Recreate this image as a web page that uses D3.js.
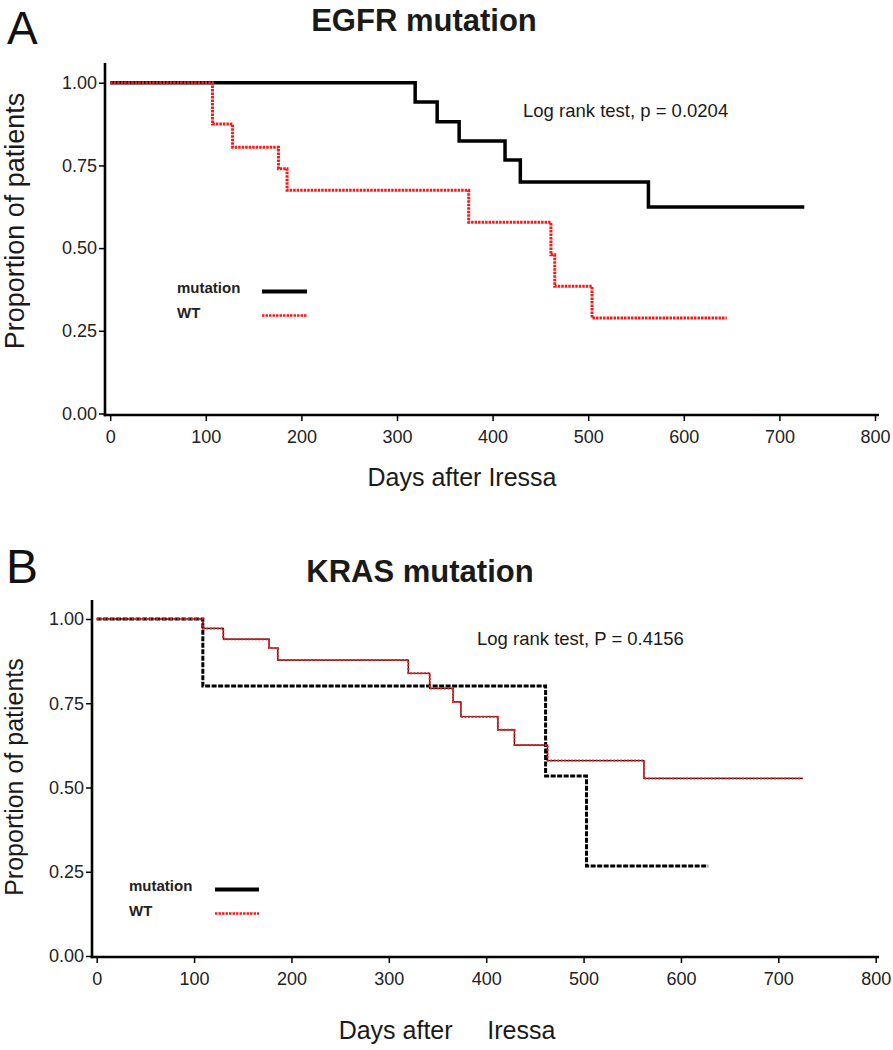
<!DOCTYPE html>
<html>
<head>
<meta charset="utf-8">
<script src="https://cdn.jsdelivr.net/npm/d3@7/dist/d3.min.js"></script>
<style>
  html, body { margin: 0; padding: 0; background: #fff; }
  svg { display: block; font-family: "Liberation Sans", Arial, Helvetica, sans-serif; }
</style>
</head>
<body>
<svg id="chart" width="893" height="1050"></svg>
<script>
// ---------- data ----------
const xTickValues = [0, 100, 200, 300, 400, 500, 600, 700, 800];
const yTickValues = [0, 0.25, 0.5, 0.75, 1.0];
const seriesNames = ["mutation", "WT"];

// Panel A: EGFR mutation
const egfrMutDays = [0, 319, 342, 365, 413, 429, 563, 726];
const egfrMutSurv = [1.0, 0.942, 0.882, 0.824, 0.766, 0.70, 0.624, 0.624];
const egfrWtDays  = [0, 107, 128, 176, 185, 375, 461, 465, 504, 645];
const egfrWtSurv  = [1.0, 0.875, 0.805, 0.74, 0.675, 0.578, 0.48, 0.385, 0.289, 0.289];

// Panel B: KRAS mutation
const krasMutDays = [0, 109, 461, 503, 628];
const krasMutSurv = [1.0, 0.801, 0.534, 0.267, 0.267];
const krasWtDays  = [0, 109, 130, 177, 186, 320, 342, 366, 374, 412, 429, 463, 562, 725];
const krasWtSurv  = [1.0, 0.972, 0.94, 0.914, 0.878, 0.839, 0.794, 0.754, 0.71, 0.671, 0.626, 0.58, 0.527, 0.527];

const panelLetters = ["A", "B"];
const panelTitles = ["EGFR mutation", "KRAS mutation"];
const pvalueTexts = ["Log rank test, p = 0.0204", "Log rank test, P = 0.4156"];
const xAxisTitles = ["Days after Iressa", "Days after     Iressa"];
const yAxisTitle = "Proportion of patients";

// ---------- drawing ----------
const svg = d3.select("#chart");
const RED = "#f01c1c";

function zip(days, surv) { return days.map((d, i) => ({ t: d, s: surv[i] })); }

const panels = [
  {
    letter: panelLetters[0], title: panelTitles[0], ptext: pvalueTexts[0], xtitle: xAxisTitles[0],
    mut: zip(egfrMutDays, egfrMutSurv), wt: zip(egfrWtDays, egfrWtSurv),
    x0: 110.2, x1: 875, yTop: 82.7, yBot: 413.5, axisX: 105, axisY: 415, axisTop: 63, axisRight: 879,
    letterPos: [7, 44], letterSize: 46, titlePos: [424, 31], ptextPos: [523, 117],
    xtitlePos: [462, 486], ytitlePos: [24, 221], ytitleSize: 27,
    legend: { textX: 177, y1: 293, y2: 318, lx1: 262, lx2: 307 },
    style: "A"
  },
  {
    letter: panelLetters[1], title: panelTitles[1], ptext: pvalueTexts[1], xtitle: xAxisTitles[1],
    mut: zip(krasMutDays, krasMutSurv), wt: zip(krasWtDays, krasWtSurv),
    x0: 96.7, x1: 875.7, yTop: 619, yBot: 956, axisX: 92, axisY: 957, axisTop: 600, axisRight: 879,
    letterPos: [6, 583], letterSize: 48, titlePos: [420, 582], ptextPos: [477, 645],
    xtitlePos: [447, 1039], ytitlePos: [23, 777], ytitleSize: 25,
    legend: { textX: 129, y1: 891, y2: 916, lx1: 215, lx2: 259 },
    style: "B"
  }
];

panels.forEach(p => {
  const g = svg.append("g");
  const x = d3.scaleLinear().domain([0, 800]).range([p.x0, p.x1]);
  const y = d3.scaleLinear().domain([0, 1]).range([p.yBot, p.yTop]);

  // panel letter
  g.append("text").attr("x", p.letterPos[0]).attr("y", p.letterPos[1])
    .attr("font-size", p.letterSize).attr("font-weight", 300).attr("fill", "#111")
    .text(p.letter);

  // title
  g.append("text").attr("x", p.titlePos[0]).attr("y", p.titlePos[1])
    .attr("text-anchor", "middle").attr("font-size", 31).attr("font-weight", "bold")
    .attr("fill", "#1a1a1a").text(p.title);

  // axes
  const xAxis = d3.axisBottom(x).tickValues(xTickValues).tickFormat(d3.format("d"))
    .tickSize(6).tickSizeOuter(0);
  const yAxis = d3.axisLeft(y).tickValues(yTickValues).tickFormat(d3.format(".2f"))
    .tickSize(6).tickSizeOuter(0);

  const gx = g.append("g").attr("transform", `translate(0,${p.axisY})`).call(xAxis);
  gx.select(".domain").remove();
  gx.selectAll(".tick line").attr("stroke", "#000").attr("stroke-width", 1.5);
  gx.selectAll(".tick text").attr("font-size", 18).attr("fill", "#222")
    .attr("font-family", "'Liberation Sans', Arial, sans-serif").attr("dy", "1.05em");

  const gy = g.append("g").attr("transform", `translate(${p.axisX},0)`).call(yAxis);
  gy.select(".domain").remove();
  gy.selectAll(".tick line").attr("stroke", "#000").attr("stroke-width", 1.5);
  gy.selectAll(".tick text").attr("font-size", 18).attr("fill", "#222")
    .attr("font-family", "'Liberation Sans', Arial, sans-serif").attr("x", -8);

  // axis lines
  g.append("line").attr("x1", p.axisX).attr("x2", p.axisX)
    .attr("y1", p.axisTop).attr("y2", p.axisY + 1.2)
    .attr("stroke", "#000").attr("stroke-width", 2.6);
  g.append("line").attr("x1", p.axisX - 1.3).attr("x2", p.axisRight)
    .attr("y1", p.axisY).attr("y2", p.axisY)
    .attr("stroke", "#000").attr("stroke-width", 2.6);

  // axis titles
  g.append("text").attr("x", p.xtitlePos[0]).attr("y", p.xtitlePos[1])
    .attr("text-anchor", "middle").attr("font-size", 25).attr("fill", "#1a1a1a")
    .style("white-space", "pre").attr("xml:space", "preserve")
    .text(p.xtitle);
  g.append("text")
    .attr("transform", `translate(${p.ytitlePos[0]},${p.ytitlePos[1]}) rotate(-90)`)
    .attr("text-anchor", "middle").attr("font-size", p.ytitleSize).attr("fill", "#1a1a1a")
    .text(yAxisTitle);

  // p-value
  g.append("text").attr("x", p.ptextPos[0]).attr("y", p.ptextPos[1])
    .attr("font-size", 18.5).attr("fill", "#1a1a1a").text(p.ptext);

  // curves
  const line = d3.line().x(d => x(d.t)).y(d => y(d.s)).curve(d3.curveStepAfter);

  if (p.style === "A") {
    g.append("path").datum(p.mut).attr("d", line)
      .attr("fill", "none").attr("stroke", "#000").attr("stroke-width", 3.5);
    g.append("path").datum(p.wt).attr("d", line)
      .attr("fill", "none").attr("stroke", RED).attr("stroke-width", 3)
      .attr("stroke-dasharray", "2.5,1");
  } else {
    g.append("path").datum(p.mut).attr("d", line)
      .attr("fill", "none").attr("stroke", "#000").attr("stroke-width", 3)
      .attr("stroke-dasharray", "5,1.5");
    g.append("path").datum(p.wt).attr("d", line)
      .attr("fill", "none").attr("stroke", "#000").attr("stroke-width", 1.2);
    g.append("path").datum(p.wt).attr("d", line)
      .attr("fill", "none").attr("stroke", RED).attr("stroke-width", 2)
      .attr("stroke-dasharray", "2,1.5");
  }

  // legend
  const L = p.legend;
  g.append("text").attr("x", L.textX).attr("y", L.y1).attr("font-size", 15)
    .attr("font-weight", "bold").attr("fill", "#222").text(seriesNames[0]);
  g.append("text").attr("x", L.textX).attr("y", L.y2).attr("font-size", 15)
    .attr("font-weight", "bold").attr("fill", "#222").text(seriesNames[1]);
  g.append("line").attr("x1", L.lx1).attr("x2", L.lx2).attr("y1", L.y1 - 1.5).attr("y2", L.y1 - 1.5)
    .attr("stroke", "#000").attr("stroke-width", 4);
  g.append("line").attr("x1", L.lx1).attr("x2", L.lx2).attr("y1", L.y2 - 2.5).attr("y2", L.y2 - 2.5)
    .attr("stroke", RED).attr("stroke-width", 2.5).attr("stroke-dasharray", "2.5,1");
});
</script>
</body>
</html>
